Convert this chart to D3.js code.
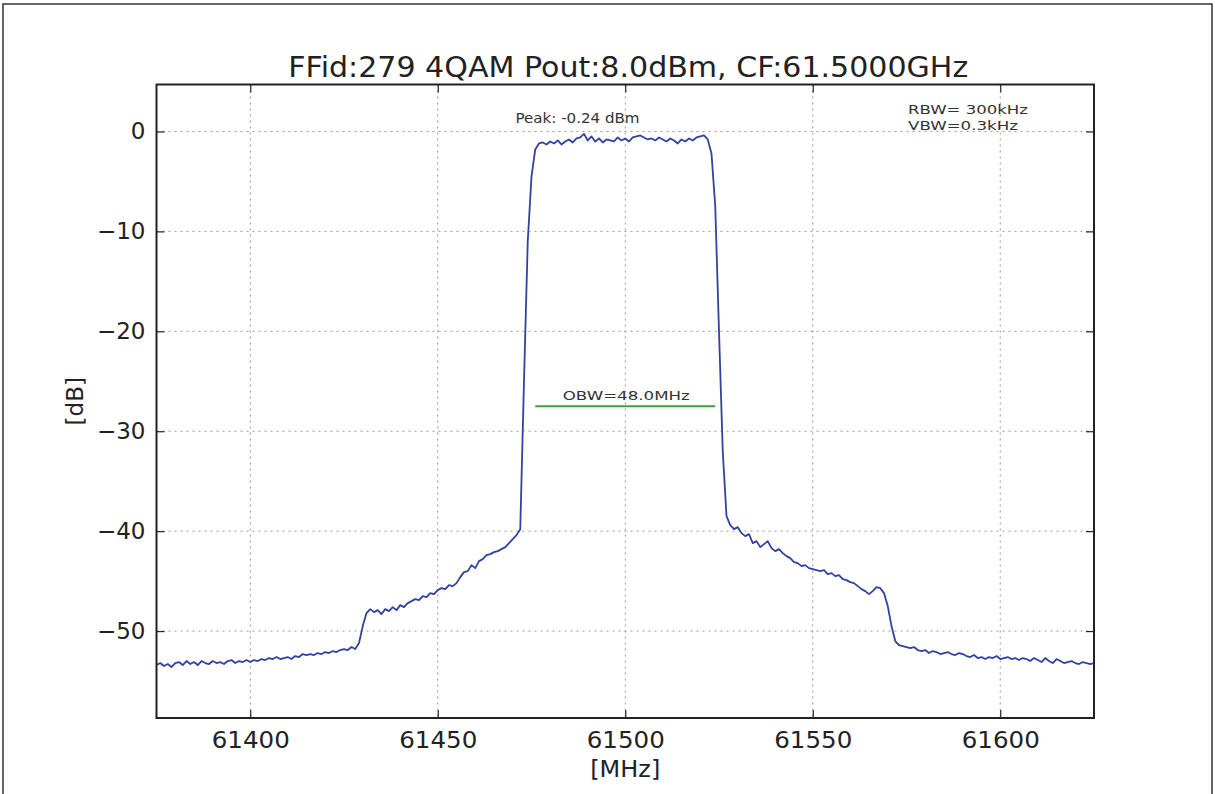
<!DOCTYPE html>
<html>
<head>
<meta charset="utf-8">
<script src="https://cdn.jsdelivr.net/npm/d3@7"></script>
<style>
  html, body { margin: 0; padding: 0; background: #fff; }
  svg { display: block; font-family: "DejaVu Sans", sans-serif; }
</style>
</head>
<body>
<svg id="chart" width="1215" height="794"></svg>
<script>
// Spectrum trace, sampled every 1 MHz starting at 61375 MHz
const startFreq = 61375;
const stepMHz = 1;
const levelDb = [
  -53.4, -53.2, -53.5, -53.3, -53.6, -53.2, -53.1, -53.4, -53.0, -53.3,
  -53.1, -53.4, -53.0, -53.2, -53.3, -53.0, -53.2, -53.1, -53.3, -53.0,
  -52.9, -53.2, -53.0, -53.1, -52.9, -53.1, -52.9, -53.0, -52.8, -52.9,
  -52.7, -52.8, -52.6, -52.8, -52.7, -52.6, -52.8, -52.5, -52.6, -52.3,
  -52.4, -52.3, -52.4, -52.2, -52.3, -52.1, -52.2, -52.0, -52.1, -51.9,
  -51.8, -51.9, -51.6, -51.8, -51.2, -49.5, -48.2, -47.8, -48.1, -47.9,
  -48.3, -47.8, -48.0, -47.6, -47.9, -47.4, -47.6, -47.2, -47.0, -46.8,
  -46.9, -46.5, -46.6, -46.2, -46.3, -45.9, -45.7, -45.8, -45.4, -45.5,
  -45.2, -44.6, -44.1, -44.0, -43.4, -43.7, -43.0, -42.8, -42.4, -42.3,
  -42.1, -42.0, -41.8, -41.6, -41.2, -40.8, -40.4, -39.8, -25.0, -11.0,
  -4.5, -1.8, -1.2, -1.1, -1.3, -1.0, -1.2, -0.9, -1.3, -1.0,
  -0.8, -1.1, -0.7, -0.6, -0.24, -0.9, -0.5, -1.0, -0.7, -1.1,
  -0.8, -0.9, -1.0, -0.6, -0.9, -0.7, -1.0, -0.6, -0.5, -0.4,
  -0.6, -0.8, -0.7, -0.9, -0.6, -0.8, -1.0, -0.7, -0.9, -1.2,
  -0.8, -1.0, -0.7, -0.9, -0.6, -0.5, -0.4, -0.8, -2.2, -7.5,
  -20.0, -32.0, -38.5, -39.4, -39.8, -39.6, -40.2, -40.5, -40.3, -41.2,
  -41.0, -41.6, -41.3, -41.0, -41.7, -42.0, -41.8, -42.2, -42.5, -42.7,
  -43.1, -43.2, -43.5, -43.4, -43.7, -43.8, -43.9, -44.0, -43.9, -44.3,
  -44.2, -44.5, -44.4, -44.8, -44.9, -45.1, -45.2, -45.5, -45.8, -46.0,
  -46.3, -46.0, -45.6, -45.7, -46.2, -47.5, -49.5, -51.0, -51.4, -51.5,
  -51.6, -51.7, -51.6, -51.9, -52.0, -51.9, -52.2, -52.0, -52.1, -52.3,
  -52.2, -52.1, -52.3, -52.4, -52.2, -52.3, -52.5, -52.6, -52.4, -52.7,
  -52.6, -52.8, -52.6, -52.7, -52.5, -52.8, -52.7, -52.6, -52.8, -52.7,
  -52.9, -52.7, -52.8, -53.0, -52.7, -52.9, -53.1, -52.7, -53.0, -53.2,
  -52.8, -53.0, -53.2, -53.1, -53.0, -53.2, -53.3, -53.1, -53.2, -53.3,
  -53.2
];

const xTicks = [61400, 61450, 61500, 61550, 61600];
const yTicks = [0, -10, -20, -30, -40, -50];

const titleText = "FFid:279 4QAM Pout:8.0dBm, CF:61.5000GHz";
const peakDb = -0.24;
const peakFreq = 61487;
const obwMHz = 48.0;
const obwCenter = 61500;
const obwLevel = -27.5;
const rbwLines = ["RBW= 300kHz", "VBW=0.3kHz"];

const trace = levelDb.map((v, i) => ({ f: startFreq + i * stepMHz, db: v }));

const svg = d3.select("#chart");
const plot = { left: 156.5, right: 1094, top: 84.5, bottom: 718 };

// outer frame
svg.append("rect")
  .attr("x", 3).attr("y", 4).attr("width", 1209).attr("height", 800)
  .attr("fill", "none").attr("stroke", "#333").attr("stroke-width", 1.5);

const x = d3.scaleLinear().domain([61375, 61625]).range([plot.left, plot.right]);
const y = d3.scaleLinear().domain([-58.7, 4.7]).range([plot.bottom, plot.top]);

const fmtY = d => (d < 0 ? "\u2212" + Math.abs(d) : String(d));

// grid
const grid = svg.append("g").attr("stroke", "#999").attr("stroke-width", 1)
  .attr("stroke-dasharray", "2,4");
grid.selectAll("line.gx").data(xTicks).join("line")
  .attr("x1", d => x(d)).attr("x2", d => x(d))
  .attr("y1", plot.top).attr("y2", plot.bottom);
grid.selectAll("line.gy").data(yTicks).join("line")
  .attr("x1", plot.left).attr("x2", plot.right)
  .attr("y1", d => y(d)).attr("y2", d => y(d));

// axes (ticks pointing inward, mirrored on top/right)
const axisStyle = g => {
  g.select(".domain").remove();
  g.selectAll(".tick line").attr("stroke", "#222").attr("stroke-width", 1.2);
  g.selectAll(".tick text").attr("fill", "#222")
    .attr("font-family", "DejaVu Sans, sans-serif").attr("font-size", 23);
};
svg.append("g").attr("transform", `translate(0,${plot.bottom})`)
  .call(d3.axisBottom(x).tickValues(xTicks).tickSize(-8).tickPadding(14).tickFormat(d3.format("d")))
  .call(axisStyle)
  .call(g => g.selectAll(".tick text").attr("textLength", 78).attr("lengthAdjust", "spacingAndGlyphs"));
svg.append("g").attr("transform", `translate(0,${plot.top})`)
  .call(d3.axisTop(x).tickValues(xTicks).tickSize(-8).tickFormat(""))
  .call(axisStyle);
svg.append("g").attr("transform", `translate(${plot.left},0)`)
  .call(d3.axisLeft(y).tickValues(yTicks).tickSize(-8).tickPadding(11).tickFormat(fmtY))
  .call(axisStyle);
svg.append("g").attr("transform", `translate(${plot.right},0)`)
  .call(d3.axisRight(y).tickValues(yTicks).tickSize(-8).tickFormat(""))
  .call(axisStyle);

// spectrum trace
const clipId = "plotClip";
svg.append("clipPath").attr("id", clipId).append("rect")
  .attr("x", plot.left).attr("y", plot.top)
  .attr("width", plot.right - plot.left).attr("height", plot.bottom - plot.top);
svg.append("path").datum(trace)
  .attr("clip-path", `url(#${clipId})`)
  .attr("fill", "none").attr("stroke", "#3242a2").attr("stroke-width", 1.8)
  .attr("stroke-linejoin", "round")
  .attr("d", d3.line().x(d => x(d.f)).y(d => y(d.db)));

// occupied bandwidth marker
svg.append("line")
  .attr("x1", x(obwCenter - obwMHz / 2)).attr("x2", x(obwCenter + obwMHz / 2))
  .attr("y1", y(obwLevel)).attr("y2", y(obwLevel))
  .attr("stroke", "#3aa43a").attr("stroke-width", 2);
svg.append("text")
  .attr("x", x(obwCenter) + 1).attr("y", y(obwLevel) - 6)
  .attr("text-anchor", "middle").attr("font-size", 13).attr("fill", "#333")
  .attr("textLength", 127).attr("lengthAdjust", "spacingAndGlyphs")
  .text(`OBW=${obwMHz.toFixed(1)}MHz`);

// peak annotation
svg.append("text")
  .attr("x", x(peakFreq) + 1).attr("y", y(peakDb) - 11)
  .attr("text-anchor", "middle").attr("font-size", 14).attr("fill", "#333")
  .attr("textLength", 124).attr("lengthAdjust", "spacingAndGlyphs")
  .text(`Peak: ${peakDb.toFixed(2)} dBm`);

// RBW / VBW note
const rbwWidths = [120, 110];
svg.append("g").selectAll("text").data(rbwLines).join("text")
  .attr("x", 908).attr("y", (d, i) => 114 + i * 16)
  .attr("font-size", 13).attr("fill", "#333")
  .attr("textLength", (d, i) => rbwWidths[i]).attr("lengthAdjust", "spacingAndGlyphs")
  .text(d => d);

// spines
svg.append("rect")
  .attr("x", plot.left).attr("y", plot.top)
  .attr("width", plot.right - plot.left).attr("height", plot.bottom - plot.top)
  .attr("fill", "none").attr("stroke", "#222").attr("stroke-width", 2);

// title and axis labels
svg.append("text").attr("x", (plot.left + plot.right) / 2 + 3).attr("y", 77)
  .attr("text-anchor", "middle").attr("font-size", 29).attr("fill", "#222")
  .attr("textLength", 680).attr("lengthAdjust", "spacingAndGlyphs")
  .text(titleText);
svg.append("text").attr("x", (plot.left + plot.right) / 2).attr("y", 777)
  .attr("text-anchor", "middle").attr("font-size", 23).attr("fill", "#222")
  .attr("textLength", 70).attr("lengthAdjust", "spacingAndGlyphs")
  .text("[MHz]");
svg.append("text")
  .attr("transform", `translate(83,${(plot.top + plot.bottom) / 2}) rotate(-90)`)
  .attr("text-anchor", "middle").attr("font-size", 23).attr("fill", "#222")
  .text("[dB]");
</script>
</body>
</html>
